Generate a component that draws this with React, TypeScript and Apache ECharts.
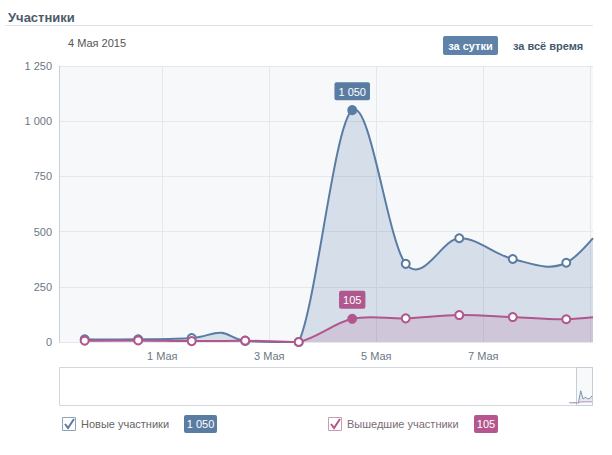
import React, { useEffect, useRef } from 'react';
import * as echarts from 'echarts';

// ---- data ----
const title = 'Участники';
const selectedDate = '4 Мая 2015';
const periodButtons = ['за сутки', 'за всё время'];
const seriesNames = ['Новые участники', 'Вышедшие участники'];
// days relative to 1 May 00:00
const dayX = [-1.45, -0.45, 0.55, 1.55, 2.55, 3.55, 4.55, 5.55, 6.55, 7.55, 8.55];
const newMembers = [12, 12, 18, 5, 0, 1050, 354, 470, 376, 359, 620];
const leftMembers = [6, 7, 4, 6, 0, 105, 107, 122, 113, 103, 125];
// intermediate (unmarked) point of the new-members curve between 1 and 2 May
const newMembersBumpX = 1.1;
const newMembersBump = 42;
const selectedIndex = 5;
const xTickValues = [0, 2, 4, 6];
const xTickLabels = ['1 Мая', '3 Мая', '5 Мая', '7 Мая'];
const xGridValues = [0, 2, 4, 6, 8];
const yMax = 1250;
const yStep = 250;

const BLUE = '#5a7ca3';
const PINK = '#b0578e';
const FONT = 'Liberation Sans, Arial, sans-serif';

const fmt = (n: number) => String(n).replace(/\B(?=(\d{3})+(?!\d))/g, ' ');

type Pt = number[];
const lerp = (a: Pt, b: Pt, t: number) => [a[0] + (b[0] - a[0]) * t, a[1] + (b[1] - a[1]) * t];

// cardinal (Catmull-Rom) spline through pixel points, control points kept above the baseline,
// cut at the right edge of the plot
const splinePath = (pts: Pt[], base: number, xRight: number, k = 1 / 6) => {
  let d = `M${pts[0][0]},${pts[0][1]}`;
  let lastX = pts[0][0];
  for (let i = 0; i < pts.length - 1; i++) {
    const p0 = pts[i - 1] || pts[i];
    const p1 = pts[i];
    const p2 = pts[i + 1];
    const p3 = pts[i + 2] || p2;
    const c1 = [p1[0] + (p2[0] - p0[0]) * k, Math.min(base, p1[1] + (p2[1] - p0[1]) * k)];
    const c2 = [p2[0] - (p3[0] - p1[0]) * k, Math.min(base, p2[1] - (p3[1] - p1[1]) * k)];
    if (p2[0] > xRight) {
      let lo = 0;
      let hi = 1;
      for (let n = 0; n < 40; n++) {
        const t = (lo + hi) / 2;
        const mt = 1 - t;
        const x = mt * mt * mt * p1[0] + 3 * mt * mt * t * c1[0] + 3 * mt * t * t * c2[0] + t * t * t * p2[0];
        if (x < xRight) lo = t;
        else hi = t;
      }
      const t = lo;
      const a = lerp(p1, c1, t);
      const b = lerp(c1, c2, t);
      const c = lerp(c2, p2, t);
      const ab = lerp(a, b, t);
      const bc = lerp(b, c, t);
      const e = lerp(ab, bc, t);
      d += ` C${a[0]},${a[1]} ${ab[0]},${ab[1]} ${e[0]},${e[1]}`;
      lastX = e[0];
      break;
    }
    d += ` C${c1[0]},${c1[1]} ${c2[0]},${c2[1]} ${p2[0]},${p2[1]}`;
    lastX = p2[0];
  }
  return { d, lastX };
};

export default function App() {
  const ref = useRef<HTMLDivElement>(null);
  useEffect(() => {
    if (!ref.current) return;
    const chart = echarts.init(ref.current, undefined, { renderer: 'svg' });

    const blueLinePts: number[][] = [];
    dayX.forEach((x, i) => {
      blueLinePts.push([x, newMembers[i]]);
      if (x < newMembersBumpX && (dayX[i + 1] ?? 1e9) > newMembersBumpX) blueLinePts.push([newMembersBumpX, newMembersBump]);
    });
    const pinkLinePts: number[][] = dayX.map((x, i) => [x, leftMembers[i]]);

    const curveSeries = (vals: number[][], color: string, area: string, z: number) => ({
      type: 'custom',
      coordinateSystem: 'cartesian2d',
      clip: false,
      silent: true,
      z,
      data: [[dayX[0], 0]],
      renderItem: (params: any, api: any) => {
        const pts = vals.map((p) => api.coord(p));
        const base = api.coord([0, 0])[1];
        const cs = params.coordSys;
        const { d, lastX } = splinePath(pts, base, cs.x + cs.width);
        const areaD = `${d} L${lastX},${base} L${pts[0][0]},${base} Z`;
        return {
          type: 'group',
          children: [
            { type: 'path', shape: { pathData: areaD }, style: { fill: area, stroke: 'none' } },
            { type: 'path', shape: { pathData: d }, style: { fill: 'none', stroke: color, lineWidth: 2 } },
          ],
        };
      },
    });

    const markerSeries = (vals: number[], color: string, z: number) => ({
      type: 'scatter',
      z,
      clip: true,
      symbol: 'circle',
      symbolSize: 8,
      silent: true,
      itemStyle: { color: '#fff', borderColor: color, borderWidth: 2, opacity: 1 },
      data: vals.map((v, i) => {
        const item: any = { value: [dayX[i], v] };
        if (i === selectedIndex) {
          item.itemStyle = { color, borderColor: color };
          item.label = {
            show: true,
            position: 'top',
            distance: 5,
            formatter: fmt(v),
            backgroundColor: color,
            color: '#fff',
            fontFamily: FONT,
            fontSize: 11,
            padding: [4, 4, 3, 4],
            borderRadius: 2,
          };
        }
        return item;
      }),
    });

    const navData = (vals: number[]) => vals.map((v, i) => [dayX[i], v]);

    chart.setOption({
      animation: false,
      grid: [
        { left: 59, right: 19, top: 66, bottom: 113, show: true, backgroundColor: '#f7f8fa', borderWidth: 0 },
        { left: 60, right: 20, top: 368, height: 35, show: false },
      ],
      xAxis: [
        {
          type: 'value',
          min: -1.93,
          max: 8.05,
          axisLine: { show: false },
          axisTick: { show: false, customValues: xGridValues },
          splitLine: { show: true, lineStyle: { color: '#e4e7eb', width: 1 } },
          axisLabel: {
            customValues: xTickValues,
            formatter: (v: number) => xTickLabels[xTickValues.indexOf(v)] ?? '',
            color: '#6b7785',
            fontFamily: FONT,
            fontSize: 11,
            margin: 8,
          },
        },
        { type: 'value', gridIndex: 1, min: -227, max: 8.55, show: false },
      ],
      yAxis: [
        {
          type: 'value',
          min: 0,
          max: yMax,
          interval: yStep,
          axisLine: { show: true, onZero: false, lineStyle: { color: '#c8d0d9' } },
          axisTick: { show: false },
          splitLine: { lineStyle: { color: '#e4e7eb' } },
          axisLabel: {
            formatter: (v: number) => fmt(v),
            color: '#6b7785',
            fontFamily: FONT,
            fontSize: 11,
            margin: 7,
          },
        },
        { type: 'value', gridIndex: 1, min: 0, max: 3000, show: false },
      ],
      series: [
        { ...curveSeries(blueLinePts, BLUE, 'rgba(84,122,168,0.2)', 2), name: seriesNames[0] },
        { ...markerSeries(newMembers, BLUE, 3), name: seriesNames[0] },
        { ...curveSeries(pinkLinePts, PINK, 'rgba(176,87,142,0.18)', 4), name: seriesNames[1] },
        { ...markerSeries(leftMembers, PINK, 5), name: seriesNames[1] },
        {
          type: 'line',
          xAxisIndex: 1,
          yAxisIndex: 1,
          data: navData(newMembers),
          symbol: 'none',
          lineStyle: { color: '#7d93ad', width: 1 },
          areaStyle: { color: 'rgba(90,124,163,0.15)' },
          silent: true,
        },
        {
          type: 'line',
          xAxisIndex: 1,
          yAxisIndex: 1,
          data: navData(leftMembers),
          symbol: 'none',
          lineStyle: { color: '#c79bb7', width: 1 },
          silent: true,
        },
      ],
      graphic: [
        { type: 'text', x: 8, y: 17, style: { text: title, fill: '#4c5b6c', font: `bold 13px ${FONT}`, textVerticalAlign: 'middle' } },
        { type: 'line', shape: { x1: 5, y1: 25.5, x2: 593, y2: 25.5 }, style: { stroke: '#dfe4ea', lineWidth: 1 } },
        { type: 'text', x: 68, y: 43, style: { text: selectedDate, fill: '#555', font: `11px ${FONT}`, textVerticalAlign: 'middle' } },
        { type: 'rect', shape: { x: 443, y: 36, width: 55, height: 19, r: 2 }, style: { fill: '#5f82a8' } },
        { type: 'text', x: 470.5, y: 45.5, style: { text: periodButtons[0], fill: '#fff', font: `bold 11px ${FONT}`, textAlign: 'center', textVerticalAlign: 'middle' } },
        { type: 'text', x: 513, y: 45.5, style: { text: periodButtons[1], fill: '#44596e', font: `bold 11px ${FONT}`, textVerticalAlign: 'middle' } },
        // navigator frame
        { type: 'rect', shape: { x: 59.5, y: 367.5, width: 533, height: 38 }, style: { fill: 'none', stroke: '#d3d8de', lineWidth: 1 } },
        { type: 'rect', shape: { x: 576.5, y: 367.5, width: 16, height: 38 }, style: { fill: 'rgba(230,234,239,0.3)', stroke: '#c5cdd6', lineWidth: 1 } },
        // legend: new members
        { type: 'rect', shape: { x: 62.5, y: 417.5, width: 13, height: 13 }, style: { fill: '#fff', stroke: '#8ea3ba', lineWidth: 1 } },
        { type: 'polyline', shape: { points: [[65, 424], [68, 428], [74, 419]] }, style: { fill: 'none', stroke: BLUE, lineWidth: 2 } },
        { type: 'text', x: 81, y: 424, style: { text: seriesNames[0], fill: '#666', font: `11px ${FONT}`, textVerticalAlign: 'middle' } },
        { type: 'rect', shape: { x: 184, y: 415, width: 33, height: 18, r: 2 }, style: { fill: BLUE } },
        { type: 'text', x: 200.5, y: 424, style: { text: fmt(newMembers[selectedIndex]), fill: '#fff', font: `11px ${FONT}`, textAlign: 'center', textVerticalAlign: 'middle' } },
        // legend: left members
        { type: 'rect', shape: { x: 328.5, y: 417.5, width: 13, height: 13 }, style: { fill: '#fff', stroke: '#c69cb6', lineWidth: 1 } },
        { type: 'polyline', shape: { points: [[331, 424], [334, 428], [340, 419]] }, style: { fill: 'none', stroke: PINK, lineWidth: 2 } },
        { type: 'text', x: 347, y: 424, style: { text: seriesNames[1], fill: '#7a6b76', font: `11px ${FONT}`, textVerticalAlign: 'middle' } },
        { type: 'rect', shape: { x: 474, y: 415, width: 24, height: 18, r: 2 }, style: { fill: '#b5568f' } },
        { type: 'text', x: 486, y: 424, style: { text: fmt(leftMembers[selectedIndex]), fill: '#fff', font: `11px ${FONT}`, textAlign: 'center', textVerticalAlign: 'middle' } },
      ],
    });
    return () => chart.dispose();
  }, []);
  return <div ref={ref} style={{ position: 'fixed', left: 0, top: 0, width: 612, height: 455, background: '#fff' }} />;
}
